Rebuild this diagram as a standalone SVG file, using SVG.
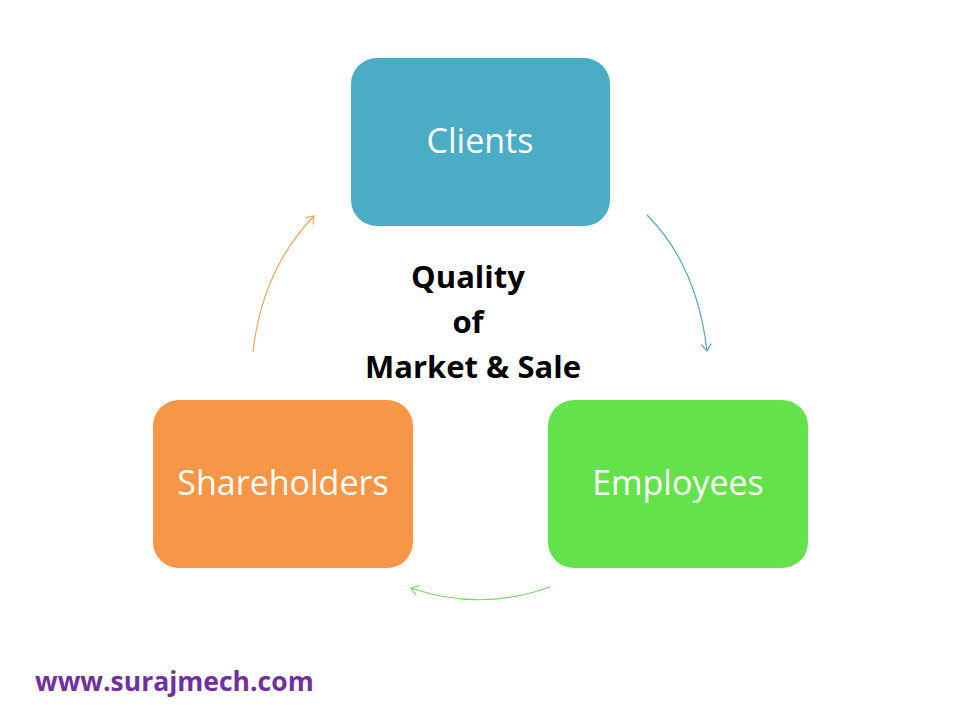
<svg xmlns="http://www.w3.org/2000/svg" width="960" height="720" viewBox="0 0 960 720">
<style>
.box{stroke:none}
.lbl{font-family:"Open Sans","Noto Sans",sans-serif;font-size:34px;fill:#ffffff;text-anchor:middle}
.ctr{font-family:"Open Sans","Noto Sans",sans-serif;font-size:31px;font-weight:bold;fill:#000;text-anchor:middle}
.arc{fill:none;stroke-width:1.2}
</style>
<defs>
<marker id="ab" markerWidth="12" markerHeight="12" refX="9" refY="6" orient="auto" markerUnits="userSpaceOnUse"><path d="M2,1 L9,6 L2,11" fill="none" stroke="#5aa3c4" stroke-width="1.2"/></marker>
<marker id="ao" markerWidth="12" markerHeight="12" refX="9" refY="6" orient="auto" markerUnits="userSpaceOnUse"><path d="M2,1 L9,6 L2,11" fill="none" stroke="#f0a465" stroke-width="1.2"/></marker>
<marker id="ag" markerWidth="12" markerHeight="12" refX="9" refY="6" orient="auto" markerUnits="userSpaceOnUse"><path d="M2,1 L9,6 L2,11" fill="none" stroke="#7ad66a" stroke-width="1.2"/></marker>
</defs>
<rect width="960" height="720" fill="#ffffff"/>
<g id="connectors">
<path class="arc" d="M647,215 Q697,265 707,351" stroke="#5aa3c4" marker-end="url(#ab)"/>
<path class="arc" d="M253,352 Q262,270 314,216" stroke="#f0a465" marker-end="url(#ao)"/>
<path class="arc" d="M550,587 Q480,612 411,588" stroke="#7ad66a" marker-end="url(#ag)"/>
</g>
<g id="clients">
<rect class="box" x="351" y="58" width="259" height="168" rx="26" fill="#4bacc6"/>
<text class="lbl" x="480" y="153">Clients</text>
</g>
<g id="employees">
<rect class="box" x="548" y="400" width="260" height="168" rx="26" fill="#63e24b"/>
<text class="lbl" x="678" y="495">Employees</text>
</g>
<g id="shareholders">
<rect class="box" x="153" y="400" width="260" height="168" rx="26" fill="#f79646"/>
<text class="lbl" x="283" y="495">Shareholders</text>
</g>
<g id="center">
<text class="ctr" x="468" y="288">Quality</text>
<text class="ctr" x="468" y="333">of</text>
<text class="ctr" x="473" y="378">Market &amp; Sale</text>
</g>
<text x="35" y="691" font-family="'Open Sans','Noto Sans',sans-serif" font-size="26.5" font-weight="bold" fill="#7030a0">www.surajmech.com</text>
</svg>
